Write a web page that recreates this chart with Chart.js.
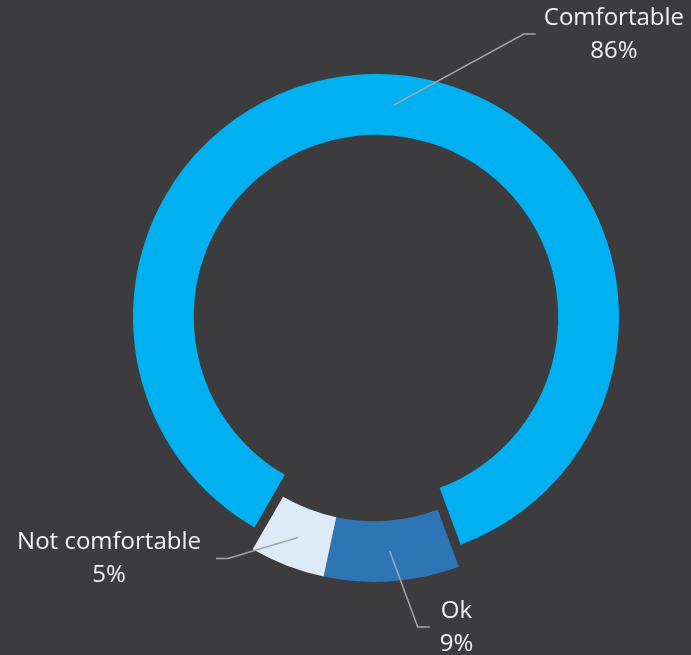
<!DOCTYPE html>
<html>
<head>
<meta charset="utf-8">
<script src="https://cdn.jsdelivr.net/npm/chart.js@4"></script>
<style>
  html, body { margin: 0; padding: 0; background: #3c3c3e; }
  #wrap { width: 691px; height: 655px; position: relative; }
</style>
</head>
<body>
<div id="wrap"><canvas id="donutChart"></canvas></div>
<script>
// data
const categories = ['Comfortable', 'Ok', 'Not comfortable'];
const shares = [86, 9, 5];
const percentLabels = ['86%', '9%', '5%'];
const exploded = [false, true, true];

const sliceColors = ['#00b0f0', '#2e75b6', '#deebf7'];
const explodeDistance = 22;

// where each label sits, relative to its slice centre
const labelLayout = [
  { dx: 130, dy: -71, side: 'right', gap: 8 },
  { dx: 28, dy: 76, side: 'right', gap: 10 },
  { dx: -70, dy: 21, side: 'left', gap: 15 }
];

function groupShift(meta) {
  // the exploded slices move together along their shared bisector
  const idx = exploded.map((e, i) => e ? i : -1).filter(i => i >= 0);
  const first = meta.data[idx[0]];
  const last = meta.data[idx[idx.length - 1]];
  const mid = (first.startAngle + last.endAngle) / 2;
  return { x: Math.cos(mid) * explodeDistance, y: Math.sin(mid) * explodeDistance };
}

const explodePlugin = {
  id: 'explodeGroup',
  beforeDatasetDraw(chart, args) {
    const ctx = chart.ctx;
    const shift = groupShift(args.meta);
    args.meta.data.forEach((arc, i) => {
      ctx.save();
      if (exploded[i]) ctx.translate(shift.x, shift.y);
      arc.draw(ctx);
      ctx.restore();
    });
    return false;
  }
};

const labelPlugin = {
  id: 'leaderLabels',
  afterDatasetsDraw(chart) {
    const ctx = chart.ctx;
    const meta = chart.getDatasetMeta(0);
    const shift = groupShift(meta);
    ctx.save();
    ctx.font = '24px "Open Sans"';
    meta.data.forEach((arc, i) => {
      const c = arc.getCenterPoint();
      const sx = c.x + (exploded[i] ? shift.x : 0);
      const sy = c.y + (exploded[i] ? shift.y : 0);
      const lay = labelLayout[i];
      const ex = sx + lay.dx, ey = sy + lay.dy;
      const dir = lay.side === 'right' ? 1 : -1;
      const hx = ex + dir * 12;

      ctx.strokeStyle = '#a6a6a6';
      ctx.lineWidth = 1.5;
      ctx.beginPath();
      ctx.moveTo(sx, sy);
      ctx.lineTo(ex, ey);
      ctx.lineTo(hx, ey);
      ctx.stroke();

      const lines = [categories[i], percentLabels[i]];
      const w = Math.max(...lines.map(t => ctx.measureText(t).width));
      const cx = lay.side === 'right' ? hx + lay.gap + w / 2 : hx - lay.gap - w / 2;
      ctx.fillStyle = '#f2f2f2';
      ctx.textAlign = 'center';
      ctx.textBaseline = 'middle';
      ctx.fillText(lines[0], cx, ey - 16);
      ctx.fillText(lines[1], cx, ey + 17);
    });
    ctx.restore();
  }
};

const ctx = document.getElementById('donutChart').getContext('2d');
new Chart(ctx, {
  type: 'doughnut',
  data: {
    labels: categories,
    datasets: [{
      data: shares,
      backgroundColor: sliceColors,
      borderWidth: 0
    }]
  },
  options: {
    responsive: true,
    maintainAspectRatio: false,
    animation: false,
    events: [],
    rotation: 210,
    radius: 243,
    cutout: '75%',
    layout: { padding: { left: 80, right: 19, top: 10, bottom: 31 } },
    plugins: {
      legend: { display: false },
      tooltip: { enabled: false }
    }
  },
  plugins: [explodePlugin, labelPlugin]
});
</script>
</body>
</html>
